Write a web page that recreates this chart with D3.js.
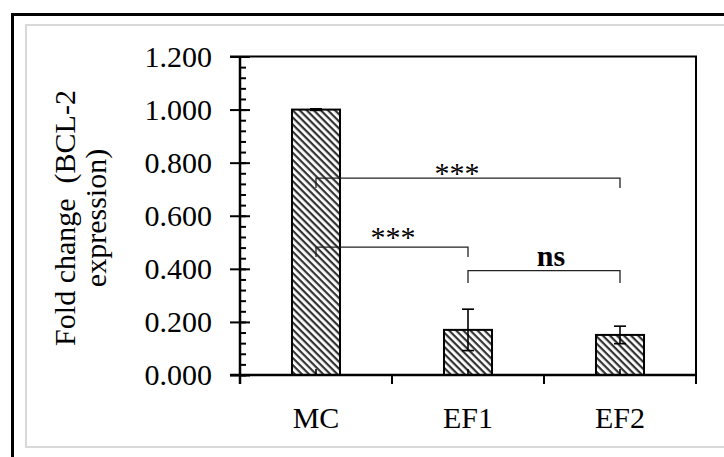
<!DOCTYPE html>
<html>
<head>
<meta charset="UTF-8">
<title>BCL-2 fold change</title>
<script src="https://d3js.org/d3.v7.min.js"></script>
<style>
  body { margin: 0; background: #fff; }
  text { font-family: "Liberation Serif", "Times New Roman", serif; fill: #000; }
</style>
</head>
<body>
<svg id="chart" width="724" height="457"></svg>
<script>
// data
const categories = ["MC", "EF1", "EF2"];
const values = [1.000, 0.170, 0.151];
const errors = [0.003, 0.078, 0.033];
const yTicks = [0, 0.2, 0.4, 0.6, 0.8, 1.0, 1.2];
const yMinorTicks = d3.range(0, 1.2001, 0.04);
// significance brackets: from, to, height, label
const brackets = [
  { from: "MC", to: "EF1", level: 0.482, drop: 0.037, label: "***", bold: false, dx: 1, dy: 0 },
  { from: "MC", to: "EF2", level: 0.742, drop: 0.037, label: "***", bold: false, dx: -11, dy: 5 },
  { from: "EF1", to: "EF2", level: 0.393, drop: 0.046, label: "ns", bold: true, dx: 7, dy: -5 }
];

const svg = d3.select("#chart");

// chart frames
svg.append("rect")
  .attr("x", 12.5).attr("y", 14.5)
  .attr("width", 760).attr("height", 500)
  .attr("fill", "none").attr("stroke", "#000").attr("stroke-width", 3);
svg.append("rect")
  .attr("x", 26).attr("y", 25)
  .attr("width", 740).attr("height", 422)
  .attr("fill", "none").attr("stroke", "#d9d9d9").attr("stroke-width", 2);

const plotL = 240, plotR = 696, plotT = 56.5, plotB = 375;

const x = d3.scaleBand()
  .domain(categories)
  .range([plotL, plotR])
  .paddingInner(0.684)
  .paddingOuter(0.342);

const y = d3.scaleLinear().domain([0, 1.2]).range([plotB, plotT]);

const cx = d => x(d) + x.bandwidth() / 2;

// hatch pattern
const defs = svg.append("defs");
const pat = defs.append("pattern")
  .attr("id", "hatch")
  .attr("patternUnits", "userSpaceOnUse")
  .attr("width", 5).attr("height", 5)
  .attr("patternTransform", "rotate(45)");
pat.append("rect").attr("width", 5).attr("height", 5).attr("fill", "#fff");
pat.append("rect").attr("width", 5).attr("height", 2.2).attr("fill", "#333");

// plot box: top and right edges
svg.append("path")
  .attr("d", `M${plotL - 10},${plotT}H${plotR}V${plotB}`)
  .attr("fill", "none").attr("stroke", "#000").attr("stroke-width", 2);

// bars
svg.append("g").selectAll("rect")
  .data(categories)
  .join("rect")
  .attr("x", d => x(d))
  .attr("y", (d, i) => y(values[i]))
  .attr("width", x.bandwidth())
  .attr("height", (d, i) => plotB - y(values[i]))
  .attr("fill", "url(#hatch)")
  .attr("stroke", "#000")
  .attr("stroke-width", 2);

// error bars
const eb = svg.append("g").attr("stroke", "#000").attr("stroke-width", 1.6);
categories.forEach((c, i) => {
  const xc = cx(c);
  eb.append("line")
    .attr("x1", xc).attr("x2", xc)
    .attr("y1", y(values[i] - errors[i])).attr("y2", y(values[i] + errors[i]));
  [values[i] - errors[i], values[i] + errors[i]].forEach(v => {
    eb.append("line")
      .attr("x1", xc - 6).attr("x2", xc + 6)
      .attr("y1", y(v)).attr("y2", y(v));
  });
  eb.append("line")
    .attr("x1", xc).attr("x2", xc)
    .attr("y1", plotB - 6).attr("y2", plotB);
});

// y axis
const yAxis = svg.append("g")
  .attr("transform", `translate(${plotL},0)`)
  .call(d3.axisLeft(y).tickValues(yTicks).tickFormat(d3.format(".3f"))
    .tickSize(10).tickPadding(18));
yAxis.selectAll("text").attr("font-size", 30).style("font-family", "Liberation Serif");
yAxis.select(".domain").remove();

svg.append("g")
  .attr("transform", `translate(${plotL},0)`)
  .call(d3.axisRight(y).tickValues(yTicks).tickSize(10).tickFormat(""))
  .select(".domain").remove();

svg.append("g")
  .attr("transform", `translate(${plotL},0)`)
  .call(d3.axisRight(y).tickValues(yMinorTicks).tickSize(6).tickFormat(""))
  .select(".domain").remove();

svg.selectAll(".tick line").attr("stroke", "#000").attr("stroke-width", 2);

svg.append("line")
  .attr("x1", plotL).attr("x2", plotL)
  .attr("y1", plotT).attr("y2", plotB + 9)
  .attr("stroke", "#000").attr("stroke-width", 2.5);

// x axis
svg.append("line")
  .attr("x1", plotL - 10).attr("x2", plotR)
  .attr("y1", plotB).attr("y2", plotB)
  .attr("stroke", "#000").attr("stroke-width", 2.5);

const bounds = categories.map(c => x(c) - x.step() * x.paddingInner() / 2)
  .concat([plotR]);
svg.append("g").selectAll("line")
  .data(bounds.slice(1))
  .join("line")
  .attr("x1", d => d).attr("x2", d => d)
  .attr("y1", plotB).attr("y2", plotB + 9)
  .attr("stroke", "#000").attr("stroke-width", 2);

svg.append("g").selectAll("text")
  .data(categories)
  .join("text")
  .attr("x", d => cx(d))
  .attr("y", 428)
  .attr("text-anchor", "middle")
  .attr("font-size", 30)
  .text(d => d);

// y title
const yt = svg.append("text")
  .attr("transform", "translate(0,218) rotate(-90)")
  .attr("text-anchor", "middle")
  .attr("font-size", 30);
yt.append("tspan").attr("x", 0).attr("y", 75).attr("xml:space", "preserve").text("Fold change  (BCL-2");
yt.append("tspan").attr("x", 0).attr("y", 106).text("expression)");

// significance brackets
const bg = svg.append("g");
brackets.forEach(b => {
  const x1 = cx(b.from), x2 = cx(b.to);
  const yl = y(b.level), yd = y(b.level - b.drop);
  bg.append("path")
    .attr("d", `M${x1},${yd}V${yl}H${x2}V${yd}`)
    .attr("fill", "none").attr("stroke", "#222").attr("stroke-width", 1.3);
  bg.append("text")
    .attr("x", (x1 + x2) / 2 + b.dx)
    .attr("y", yl + b.dy)
    .attr("text-anchor", "middle")
    .attr("font-size", 30)
    .attr("font-weight", b.bold ? "bold" : "normal")
    .text(b.label);
});
</script>
</body>
</html>
